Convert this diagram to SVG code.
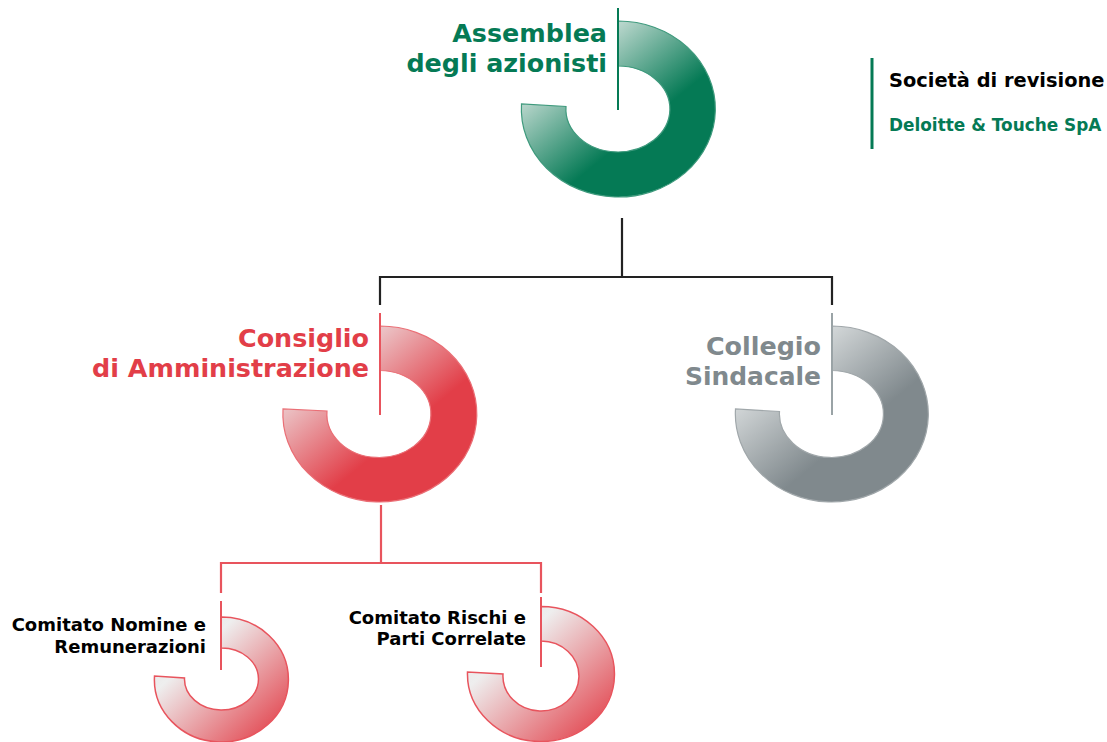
<svg xmlns="http://www.w3.org/2000/svg" width="1107" height="742" viewBox="0 0 1107 742">
<style>
text{font-family:"DejaVu Sans","Liberation Sans",sans-serif;font-weight:700}
.e{text-anchor:end}
.big{font-size:25.4px}
.small{font-size:18px;fill:#000}
.g{fill:#057a55}.r{fill:#e23e48}.s{fill:#80898d}
.cn{fill:none;stroke-width:2.2}
</style>
<defs>
<linearGradient id="gG" x1=".15" y1=".28" x2=".52" y2=".69"><stop offset="0" stop-color="#c8ded6"/><stop offset="1" stop-color="#057a55"/></linearGradient>
<linearGradient id="gR" x1=".15" y1=".28" x2=".52" y2=".69"><stop offset="0" stop-color="#ecd0d2"/><stop offset="1" stop-color="#e23e48"/></linearGradient>
<linearGradient id="gS" x1=".15" y1=".28" x2=".52" y2=".69"><stop offset="0" stop-color="#d8dcdd"/><stop offset="1" stop-color="#80898d"/></linearGradient>
<linearGradient id="gC" x1=".12" y1=".12" x2=".95" y2=".95"><stop offset="0" stop-color="#e6e6e6"/><stop offset=".22" stop-color="#eeeeee"/><stop offset="1" stop-color="#e23e48"/></linearGradient>
</defs>
<g id="connectors" class="cn">
<path d="M622 218V277M380 305V277H832V305" stroke="#222"/>
<path d="M381 505V563M221 593V563H541V593" stroke="#e8545d"/>
</g>
<g id="assemblea">
<path d="M618 21A97 88 0 1 1 521.5 104L566 106.500A52 43 0 1 0 618 66Z" fill="url(#gG)" stroke="#3f9a7d" stroke-width="1.200"/>
<path d="M618 8V110" stroke="#057a55" stroke-width="2"/>
<text class="big g e" x="607" y="42">Assemblea</text>
<text class="big g e" x="607" y="72">degli azionisti</text>
</g>
<g id="revisione">
<path d="M872 58V149" stroke="#057a55" stroke-width="3"/>
<text class="small" x="889" y="87" style="font-size:19.400px">Società di revisione</text>
<text class="g" x="889" y="131" style="font-size:16.900px">Deloitte &amp; Touche SpA</text>
</g>
<g id="consiglio">
<path d="M380 326A97 88 0 1 1 283 409L327 411A52 43.500 0 1 0 380 370.500Z" fill="url(#gR)" stroke="#ea6f76" stroke-width="1.200"/>
<path d="M380 313V415" stroke="#e8545d" stroke-width="2"/>
<text class="big r e" x="369" y="347">Consiglio</text>
<text class="big r e" x="369" y="377">di Amministrazione</text>
</g>
<g id="collegio">
<path d="M832 326A96.500 88 0 1 1 735.500 409L779.500 411.500A52 43.500 0 1 0 832 370.500Z" fill="url(#gS)" stroke="#a0a7aa" stroke-width="1.200"/>
<path d="M832 313V415" stroke="#9aa3a6" stroke-width="2"/>
<text class="big s e" x="821" y="355">Collegio</text>
<text class="big s e" x="821" y="385" textLength="136" lengthAdjust="spacingAndGlyphs">Sindacale</text>
</g>
<g id="nomine">
<path d="M221 617A67 62.500 0 1 1 154.500 676L184.500 678A37 31 0 1 0 221 648Z" fill="url(#gC)" stroke="#e8545d" stroke-width="1.500"/>
<path d="M221 601V670" stroke="#e8545d" stroke-width="2"/>
<text class="small e" x="206" y="631">Comitato Nomine e</text>
<text class="small e" x="206" y="653">Remunerazioni</text>
</g>
<g id="rischi">
<path d="M541 606.500A73.500 67.500 0 1 1 467.500 672L503 674A38 35 0 1 0 541 641Z" fill="url(#gC)" stroke="#e8545d" stroke-width="1.500"/>
<path d="M541 597V667" stroke="#e8545d" stroke-width="2"/>
<text class="small e" x="526" y="624">Comitato Rischi e</text>
<text class="small e" x="526" y="645">Parti Correlate</text>
</g>
</svg>
